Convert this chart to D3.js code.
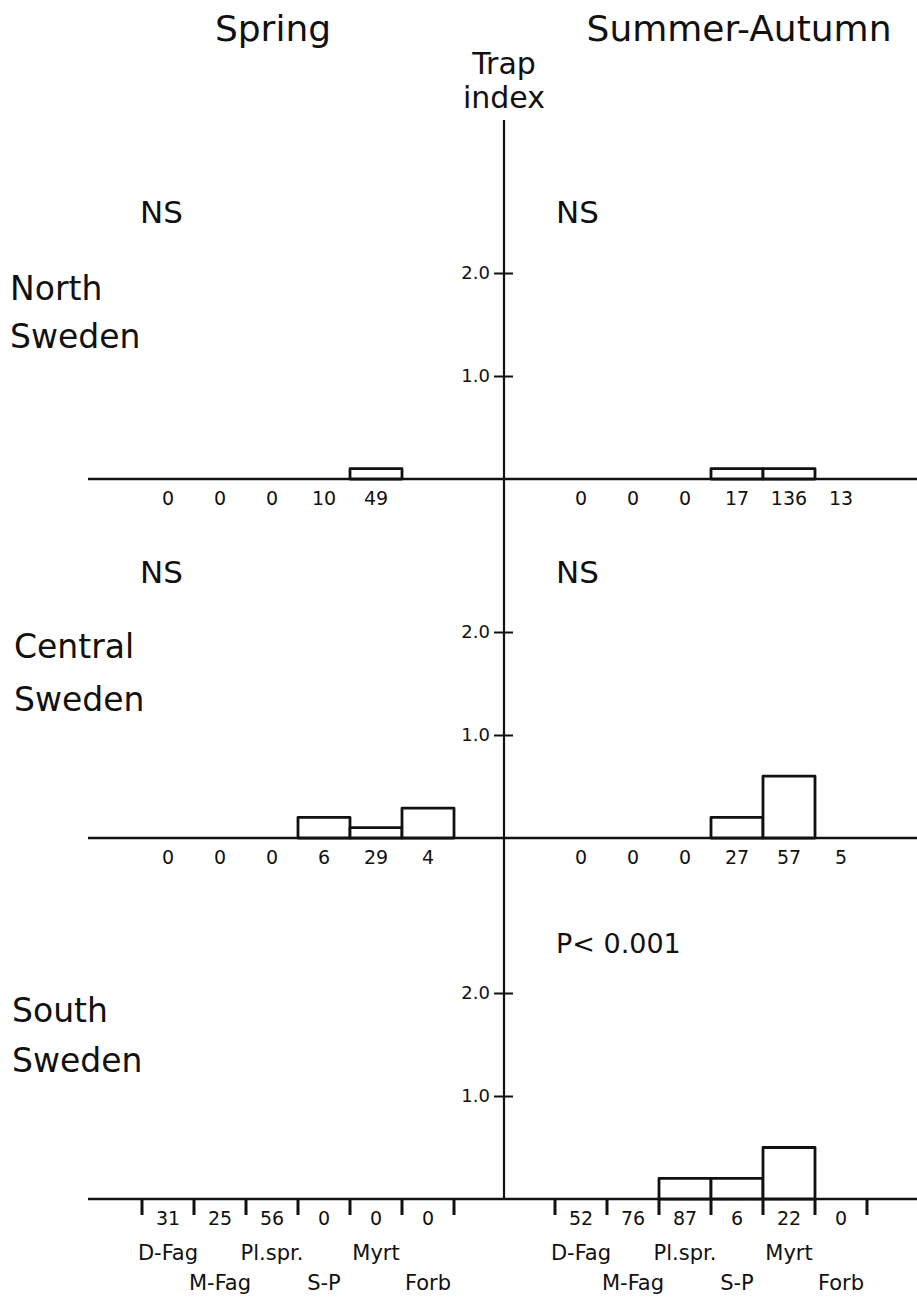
<!DOCTYPE html>
<html>
<head>
<meta charset="utf-8">
<script src="https://cdn.jsdelivr.net/npm/d3@7/dist/d3.min.js"></script>
<style>
  html, body { margin: 0; padding: 0; background: #fff; }
  svg { display: block; font-family: "DejaVu Sans", sans-serif; }
</style>
</head>
<body>
<script>
// ---------- data ----------
const categories = ["D-Fag", "M-Fag", "Pl.spr.", "S-P", "Myrt", "Forb"];
const seasons = ["Spring", "Summer-Autumn"];
const regions = [["North", "Sweden"], ["Central", "Sweden"], ["South", "Sweden"]];
const yTicks = [1.0, 2.0];

// trap index per habitat (bar heights)
const springIndex = [
  [0, 0, 0, 0, 0.1, 0],
  [0, 0, 0, 0.2, 0.1, 0.29],
  [0, 0, 0, 0, 0, 0]
];
const summerIndex = [
  [0, 0, 0, 0.1, 0.1, 0],
  [0, 0, 0, 0.2, 0.6, 0],
  [0, 0, 0.2, 0.2, 0.5, 0]
];
// sample sizes shown below the bars (null = not shown)
const springN = [
  [0, 0, 0, 10, 49, null],
  [0, 0, 0, 6, 29, 4],
  [31, 25, 56, 0, 0, 0]
];
const summerN = [
  [0, 0, 0, 17, 136, 13],
  [0, 0, 0, 27, 57, 5],
  [52, 76, 87, 6, 22, 0]
];
const springSig = ["NS", "NS", ""];
const summerSig = ["NS", "NS", "P< 0.001"];

// ---------- layout ----------
const W = 917, H = 1299;
const axisX = 504;
const baselines = [479, 838, 1199];
const unit = 103;
const ink = "#111";

const svg = d3.select("body").append("svg")
  .attr("width", W).attr("height", H);
svg.append("rect").attr("width", W).attr("height", H).attr("fill", "#fff");

const xLeft = d3.scaleBand().domain(categories).range([142, 454]).padding(0);
const xRight = d3.scaleBand().domain(categories).range([555, 867]).padding(0);

// titles
svg.append("text").attr("x", 273).attr("y", 41).attr("text-anchor", "middle")
  .attr("font-size", 36).attr("fill", ink).text(seasons[0]);
svg.append("text").attr("x", 739).attr("y", 41).attr("text-anchor", "middle")
  .attr("font-size", 36).attr("fill", ink).text(seasons[1]);
svg.append("text").attr("x", axisX).attr("y", 74).attr("text-anchor", "middle")
  .attr("font-size", 30).attr("fill", ink).text("Trap");
svg.append("text").attr("x", axisX).attr("y", 108).attr("text-anchor", "middle")
  .attr("font-size", 30).attr("fill", ink).text("index");

// central vertical axis
svg.append("line").attr("x1", axisX).attr("x2", axisX).attr("y1", 120).attr("y2", baselines[2])
  .attr("stroke", ink).attr("stroke-width", 2.2);

const regionLabelY = [[300, 348], [658, 711], [1022, 1072]];
const regionLabelX = [10, 14, 12];
const sigY = [223, 583, 953];

regions.forEach((reg, r) => {
  const b = baselines[r];
  const y = d3.scaleLinear().domain([0, 2.0]).range([b, b - 2 * unit]);

  // y axis ticks
  const ax = svg.append("g").attr("transform", `translate(${axisX},0)`)
    .call(d3.axisLeft(y).tickValues(yTicks).tickFormat(d3.format(".1f")).tickSize(0).tickPadding(14));
  ax.select(".domain").remove();
  ax.selectAll("text").attr("font-size", 18).attr("fill", ink)
    .attr("font-family", "DejaVu Sans, sans-serif");
  ax.selectAll(".tick").append("line").attr("x1", -10).attr("x2", 9)
    .attr("stroke", ink).attr("stroke-width", 2);

  // baseline
  svg.append("line").attr("x1", 88).attr("x2", 917).attr("y1", b).attr("y2", b)
    .attr("stroke", ink).attr("stroke-width", 2.6);

  // region labels
  reg.forEach((t, i) => {
    svg.append("text").attr("x", regionLabelX[r]).attr("y", regionLabelY[r][i])
      .attr("font-size", 33).attr("fill", ink).text(t);
  });

  // significance
  if (springSig[r]) svg.append("text").attr("x", 140).attr("y", sigY[r])
    .attr("font-size", 31).attr("fill", ink).text(springSig[r]);
  if (summerSig[r]) svg.append("text").attr("x", 556).attr("y", sigY[r])
    .attr("font-size", summerSig[r] === "NS" ? 31 : 27).attr("fill", ink).text(summerSig[r]);

  [[xLeft, springIndex[r], springN[r]], [xRight, summerIndex[r], summerN[r]]].forEach(([x, vals, ns]) => {
    const g = svg.append("g");
    // bars
    g.selectAll("rect").data(categories.map((c, i) => ({ c, v: vals[i] })).filter(d => d.v > 0))
      .join("rect")
      .attr("x", d => x(d.c)).attr("width", x.bandwidth())
      .attr("y", d => y(d.v)).attr("height", d => y(0) - y(d.v))
      .attr("fill", "#fff").attr("stroke", ink).attr("stroke-width", 2.8)
      .attr("stroke-linejoin", "round");
    // counts
    g.selectAll("text.n").data(categories.map((c, i) => ({ c, n: ns[i] })).filter(d => d.n !== null))
      .join("text").attr("class", "n")
      .attr("x", d => x(d.c) + x.bandwidth() / 2).attr("y", b + 26)
      .attr("text-anchor", "middle").attr("font-size", 19).attr("fill", ink)
      .text(d => d.n);
    // bottom panel: edge ticks + habitat names
    if (r === 2) {
      const edges = categories.map(c => x(c)).concat([x(categories[categories.length - 1]) + x.bandwidth()]);
      g.selectAll("line.edge").data(edges).join("line").attr("class", "edge")
        .attr("x1", d => d).attr("x2", d => d).attr("y1", b).attr("y2", b + 16)
        .attr("stroke", ink).attr("stroke-width", 3);
      g.selectAll("text.cat").data(categories).join("text").attr("class", "cat")
        .attr("x", d => x(d) + x.bandwidth() / 2)
        .attr("y", (d, i) => i % 2 === 0 ? 1260 : 1290)
        .attr("text-anchor", "middle").attr("font-size", 21).attr("fill", ink)
        .text(d => d);
    }
  });
});
</script>
</body>
</html>
